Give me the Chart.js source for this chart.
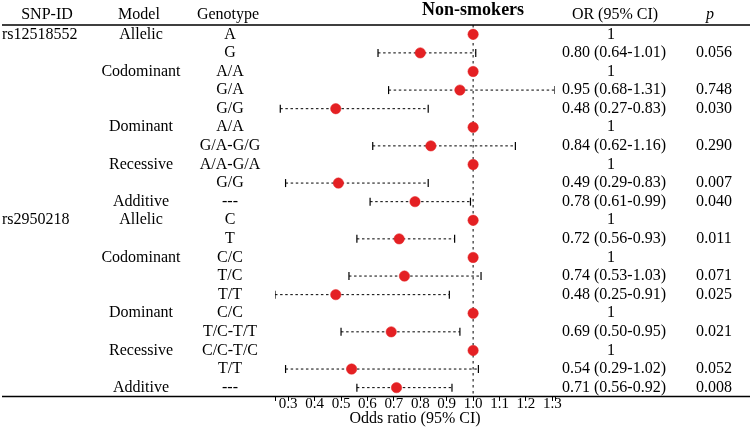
<!DOCTYPE html>
<html>
<head>
<meta charset="utf-8">
<script src="https://cdn.jsdelivr.net/npm/chart.js@4.4.1/dist/chart.umd.min.js"></script>
<style>
  html, body { margin: 0; padding: 0; background: #fff; }
  #wrap { width: 755px; height: 431px; }
</style>
</head>
<body>
<div id="wrap"><canvas id="forest" width="755" height="431"></canvas></div>
<script>
// table rows, top to bottom
const snpIds = ['rs12518552','','','','','','','','','','rs2950218','','','','','','','','',''];
const models = ['Allelic','','Codominant','','','Dominant','','Recessive','','Additive',
                'Allelic','','Codominant','','','Dominant','','Recessive','','Additive'];
const genotypes = ['A','G','A/A','G/A','G/G','A/A','G/A-G/G','A/A-G/A','G/G','---',
                   'C','T','C/C','T/C','T/T','C/C','T/C-T/T','C/C-T/C','T/T','---'];
const orValues = [1,0.80,1,0.95,0.48,1,0.84,1,0.49,0.78,1,0.72,1,0.74,0.48,1,0.69,1,0.54,0.71];
const ciLower  = [null,0.64,null,0.68,0.27,null,0.62,null,0.29,0.61,null,0.56,null,0.53,0.25,null,0.50,null,0.29,0.56];
const ciUpper  = [null,1.01,null,1.31,0.83,null,1.16,null,0.83,0.99,null,0.93,null,1.03,0.91,null,0.95,null,1.02,0.92];
const pValues  = ['','0.056','','0.748','0.030','','0.290','','0.007','0.040','','0.011','','0.071','0.025','','0.021','','0.052','0.008'];
const xTicks = [0.3,0.4,0.5,0.6,0.7,0.8,0.9,1.0,1.1,1.2,1.3];
const xMin = 0.25, xMax = 1.31;
const yMin = -0.5, yMax = 19.45;

const serif = '"Liberation Serif", "Times New Roman", serif';
const red = '#e42023';

const orText = orValues.map((v, i) => ciLower[i] === null ? '1'
  : v.toFixed(2) + ' (' + ciLower[i].toFixed(2) + '-' + ciUpper[i].toFixed(2) + ')');

const pointData = orValues.map((v, i) => ({x: v, y: i}));
const ciData = [];
orValues.forEach((v, i) => {
  if (ciLower[i] !== null) {
    ciData.push({x: ciLower[i], y: i}, {x: ciUpper[i], y: i}, {x: null, y: null});
  }
});

// draws the table columns and the two rules
const tablePlugin = {
  id: 'tableText',
  afterDraw(chart) {
    const ctx = chart.ctx;
    const yS = chart.scales.y, xS = chart.scales.x, area = chart.chartArea;
    ctx.save();
    ctx.strokeStyle = '#000';
    ctx.lineWidth = 1.3;
    ctx.beginPath();
    ctx.moveTo(2, area.top); ctx.lineTo(750, area.top);
    ctx.moveTo(2, area.bottom + 0.5); ctx.lineTo(750, area.bottom + 0.5);
    ctx.stroke();

    ctx.fillStyle = '#000';
    ctx.textBaseline = 'middle';
    ctx.font = '16px ' + serif;
    ctx.textAlign = 'center';
    const hy = 14.5;
    ctx.fillText('SNP-ID', 47, hy);
    ctx.fillText('Model', 139, hy);
    ctx.fillText('Genotype', 228, hy);
    ctx.fillText('OR (95% CI)', 615, hy);
    ctx.font = 'italic 16px ' + serif;
    ctx.fillText('p', 710, hy);
    ctx.font = 'bold 18px ' + serif;
    ctx.fillText('Non-smokers', xS.getPixelForValue(1), 10);

    ctx.font = '16px ' + serif;
    for (let i = 0; i < genotypes.length; i++) {
      const y = yS.getPixelForValue(i);
      ctx.textAlign = 'left';
      ctx.fillText(snpIds[i], 2, y);
      ctx.textAlign = 'center';
      ctx.fillText(models[i], 141, y);
      ctx.fillText(genotypes[i], 230, y);
      ctx.fillText(orText[i], orText[i] === '1' ? 611 : 614, y);
      ctx.fillText(pValues[i], 714, y);
    }
    ctx.restore();
  }
};

new Chart(document.getElementById('forest'), {
  type: 'scatter',
  data: {
    datasets: [
      {
        data: pointData,
        backgroundColor: red,
        borderColor: red,
        borderWidth: 0.5,
        pointRadius: 5.2
      },
      {
        data: ciData,
        showLine: true,
        spanGaps: false,
        borderColor: '#000',
        borderWidth: 1,
        borderDash: [2.5, 2.6],
        pointStyle: 'line',
        rotation: 90,
        pointRadius: 4,
        pointBorderWidth: 1.2,
        pointBorderColor: '#000'
      },
      {
        data: [{x: 1, y: yMin}, {x: 1, y: yMax}],
        showLine: true,
        borderColor: '#000',
        borderWidth: 1,
        borderDash: [2.5, 3.5],
        pointRadius: 0
      }
    ]
  },
  options: {
    responsive: false,
    animation: false,
    events: [],
    layout: { padding: { left: 275, right: 200, top: 25, bottom: 4 } },
    plugins: { legend: { display: false }, tooltip: { enabled: false } },
    scales: {
      x: {
        type: 'linear',
        min: xMin,
        max: xMax,
        afterBuildTicks: s => { s.ticks = [xMin, ...xTicks, xMax].map(v => ({value: v})); },
        ticks: {
          autoSkip: false,
          maxRotation: 0,
          padding: -4,
          color: '#000',
          font: { family: serif, size: 15, lineHeight: 1 },
          callback: v => xTicks.includes(v) ? v.toFixed(1) : ''
        },
        grid: { drawOnChartArea: false, drawTicks: true, tickLength: 5, color: '#000', lineWidth: 1 },
        border: { display: false },
        title: {
          display: true,
          text: 'Odds ratio (95% CI)',
          color: '#000',
          font: { family: serif, size: 16, lineHeight: 1 },
          padding: { top: 3, bottom: 0 }
        }
      },
      y: {
        type: 'linear',
        display: false,
        reverse: true,
        min: yMin,
        max: yMax
      }
    }
  },
  plugins: [tablePlugin]
});
</script>
</body>
</html>
